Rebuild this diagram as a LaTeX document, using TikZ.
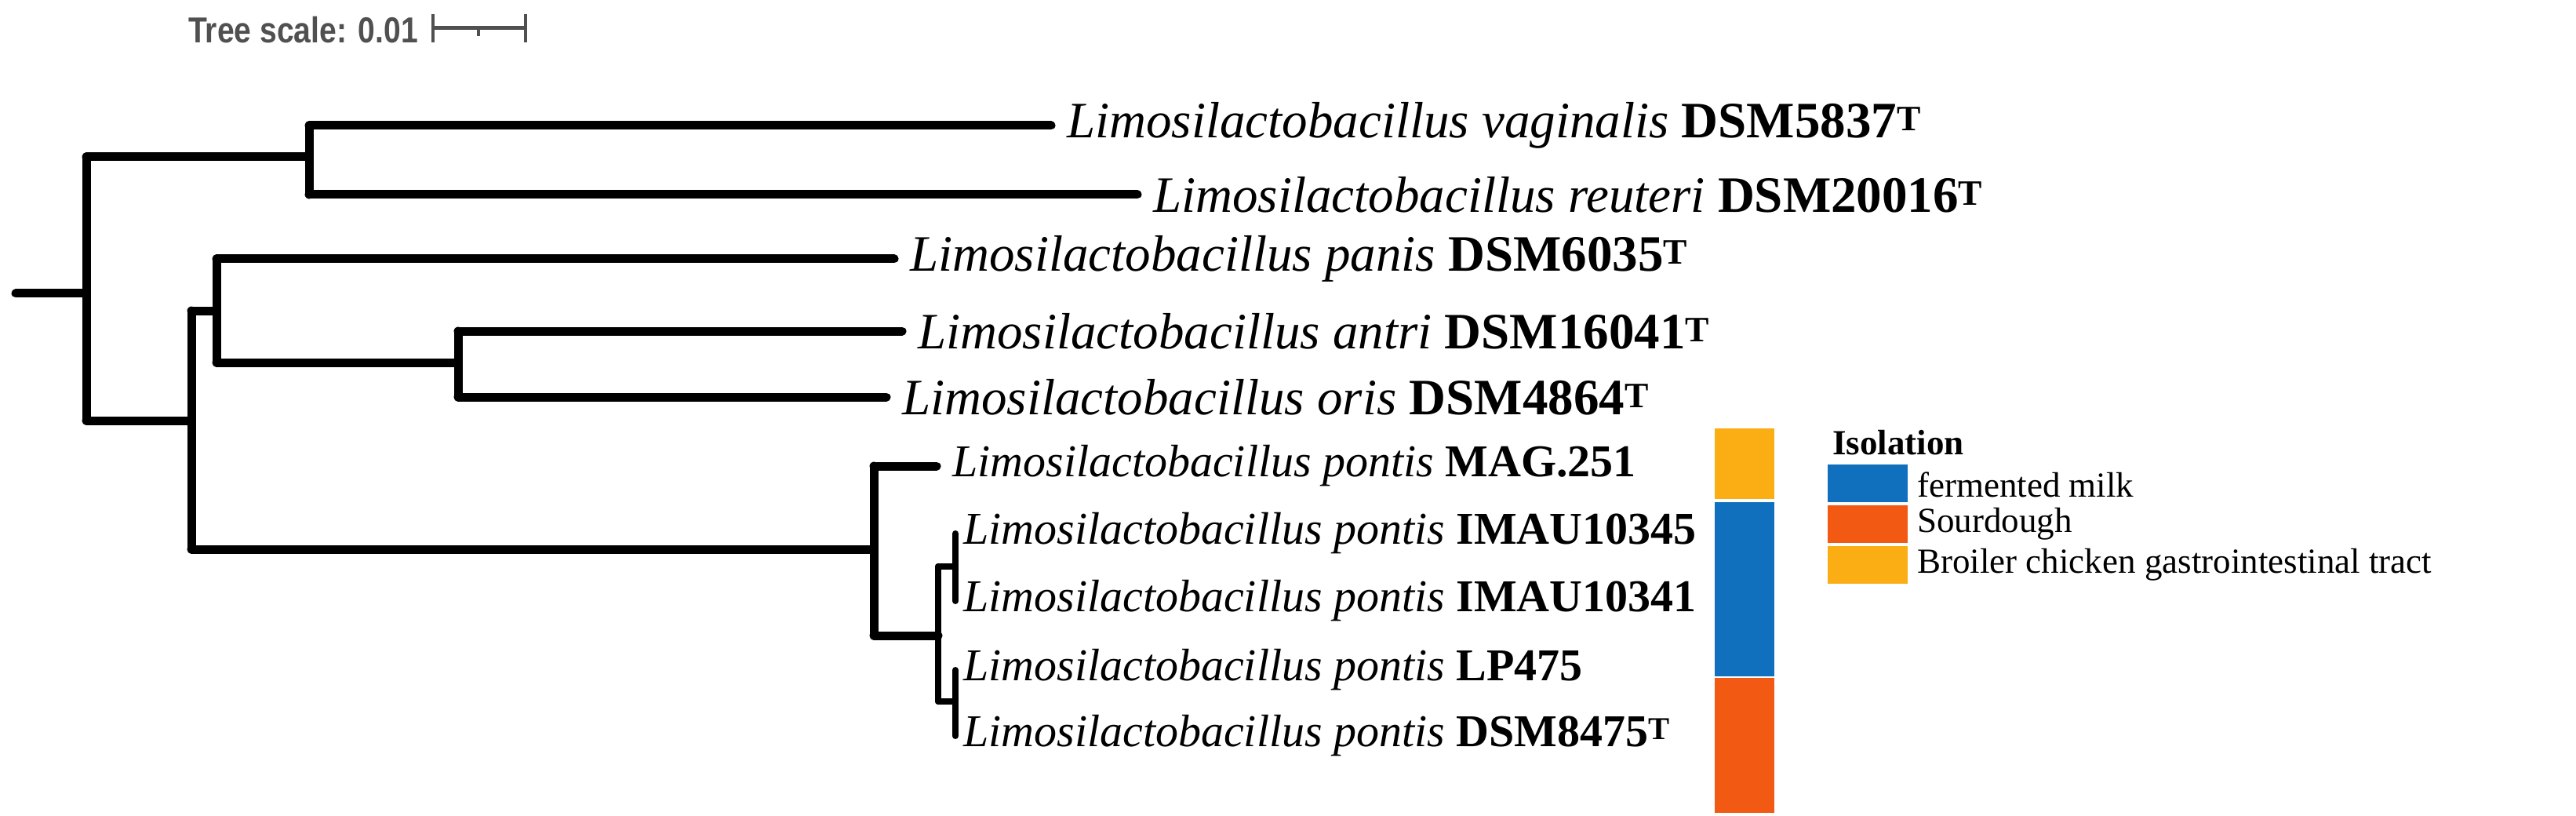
\documentclass[tikz,border=0pt]{standalone}
\usepackage{fontspec}
\setmainfont{Liberation Serif}
\newfontfamily\scalefont[FakeStretch=0.85]{Liberation Sans}
\begin{document}
\begin{tikzpicture}[x=2pt,y=-2pt,
  br/.style={line width=11pt,line cap=round,line join=round},
  thin br/.style={br,line width=8pt},
  lab/.style={anchor=west,inner sep=0pt,font=\fontsize{58}{58}\selectfont},
  big lab/.style={lab,font=\fontsize{65}{65}\selectfont},
  leg/.style={anchor=west,inner sep=0pt,font=\fontsize{45}{45}\selectfont}]
\useasboundingbox (0,0) rectangle (1642,520);
\definecolor{cblue}{HTML}{1170BE}
\definecolor{cred}{HTML}{F25A14}
\definecolor{corange}{HTML}{FBAE14}
\definecolor{sgrey}{HTML}{505050}
% scale
\node[anchor=west,inner sep=0pt,text=sgrey,font=\scalefont\bfseries\fontsize{46}{46}\selectfont] (ts) at (120,19) {Tree scale: 0.01};
\coordinate (s1) at (276,18); \coordinate (s2) at (335,18);
\draw[sgrey,line width=5pt] (s1) -- (s2);
\draw[sgrey,line width=4.5pt] (276,9) -- (276,27) (335,9) -- (335,27) (305,18) -- (305,23);
% tips
\node[big lab] (t1) at (680,80) {\textit{Limosilactobacillus vaginalis} \textbf{DSM5837\textsuperscript{T}}};
\node[big lab] (t2) at (735,124) {\textit{Limosilactobacillus reuteri} \textbf{DSM20016\textsuperscript{T}}};
\node[big lab] (t3) at (580,165) {\textit{Limosilactobacillus panis} \textbf{DSM6035\textsuperscript{T}}};
\node[big lab] (t4) at (585,211) {\textit{Limosilactobacillus antri} \textbf{DSM16041\textsuperscript{T}}};
\node[big lab] (t5) at (575,253) {\textit{Limosilactobacillus oris} \textbf{DSM4864\textsuperscript{T}}};
\node[lab] (t6) at (607,297) {\textit{Limosilactobacillus pontis} \textbf{MAG.251}};
\node[lab] (t7) at (614,340) {\textit{Limosilactobacillus pontis} \textbf{IMAU10345}};
\node[lab] (t8) at (614,383) {\textit{Limosilactobacillus pontis} \textbf{IMAU10341}};
\node[lab] (t9) at (614,427) {\textit{Limosilactobacillus pontis} \textbf{LP475}};
\node[lab] (t10) at (614,469) {\textit{Limosilactobacillus pontis} \textbf{DSM8475\textsuperscript{T}}};
% internal nodes
\coordinate (r) at (55,187);
\coordinate (a) at (197,100);
\coordinate (b) at (122,268);
\coordinate (c) at (138,198);
\coordinate (d) at (292,231);
\coordinate (e) at (557,350);
\coordinate (f) at (598,405);
\coordinate (g) at (609,361);
\coordinate (h) at (609,447);
\draw[br] (10,187) -- (r);
\draw[br] (r |- a) -- (r |- b);
\draw[br] (r |- a) -- (a); \draw[br] (r |- b) -- (b);
\draw[br] (a |- t1) -- (a |- t2);
\draw[br] (a |- t1) -- (670,80); \draw[br] (a |- t2) -- (725,124);
\draw[br] (b |- c) -- (b |- e);
\draw[br] (b |- c) -- (c); \draw[br] (b |- e) -- (e);
\draw[br] (c |- t3) -- (c |- d);
\draw[br] (c |- t3) -- (570,165); \draw[br] (c |- d) -- (d);
\draw[br] (d |- t4) -- (d |- t5);
\draw[br] (d |- t4) -- (575,211); \draw[br] (d |- t5) -- (565,253);
\draw[br] (e |- t6) -- (e |- f);
\draw[br] (e |- t6) -- (597,297); \draw[br] (e |- f) -- (f);
\draw[thin br] (f |- g) -- (f |- h);
\draw[thin br] (f |- g) -- (g); \draw[thin br] (f |- h) -- (h);
\draw[thin br] (g |- t7) -- (g |- t8);
\draw[thin br] (h |- t9) -- (h |- t10);
% colour strip
\fill[corange] (1093,273) rectangle (1131,318);
\fill[cblue] (1093,320) rectangle (1131,431);
\fill[cred] (1093,432) rectangle (1131,518);
% legend
\node[leg,font=\bfseries\fontsize{45}{45}\selectfont] (lt) at (1168,282) {Isolation};
\fill[cblue] (1165,296) rectangle (1216,320);
\fill[cred] (1165,322) rectangle (1216,346);
\fill[corange] (1165,348) rectangle (1216,372);
\node[leg] (l1) at (1222,309) {fermented milk};
\node[leg] (l2) at (1222,334) {Sourdough};
\node[leg] (l3) at (1222,360) {Broiler chicken gastrointestinal tract};
\end{tikzpicture}
\end{document}
